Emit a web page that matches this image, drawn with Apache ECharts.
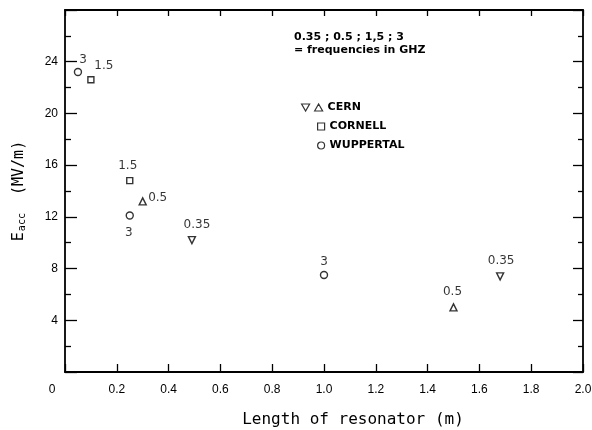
<!DOCTYPE html>
<html>
<head>
<meta charset="utf-8">
<script src="https://cdn.jsdelivr.net/npm/echarts@6/dist/echarts.min.js"></script>
<style>
html,body{margin:0;padding:0;background:#fff;}
#chart{width:592px;height:430px;}
</style>
</head>
<body>
<div id="chart"></div>
<script>
// ---- data ----
var cernUpX = [0.30, 1.50];
var cernUpY = [13.2, 5.0];
var cernUpLabels = ['0.5', '0.5'];

var cernDownX = [0.49, 1.68];
var cernDownY = [10.2, 7.4];
var cernDownLabels = ['0.35', '0.35'];

var cornellX = [0.10, 0.25];
var cornellY = [22.6, 14.8];
var cornellLabels = ['1.5', '1.5'];

var wuppX = [0.05, 0.25, 1.00];
var wuppY = [23.2, 12.1, 7.5];
var wuppLabels = ['3', '3', '3'];

var xTicks = [0, 0.2, 0.4, 0.6, 0.8, 1.0, 1.2, 1.4, 1.6, 1.8, 2.0];
var yTicks = [4, 8, 12, 16, 20, 24];

// ---- label offsets (style, not data) ----
var cernUpOff = [[15, -3], [-1, -15]];
var cernDownOff = [[5, -15], [1, -15]];
var cornellOff = [[13, -14], [-2, -15]];
var wuppOff = [[5, -12], [-1, 17], [0, -13]];

var FONT = 'Liberation Sans';
var BLACK = '#000';

function build(xs, ys, labels, offs) {
  return xs.map(function (x, i) {
    return {
      value: [x, ys[i]],
      label: { show: true, formatter: labels[i], position: 'inside', offset: offs[i] }
    };
  });
}

var markerStyle = { color: '#fff', borderColor: BLACK, borderWidth: 1.4 };
var labelStyle = { color: BLACK, fontFamily: 'DejaVu Sans', fontSize: 12, align: 'center', verticalAlign: 'middle' };

var chart = echarts.init(document.getElementById('chart'), null, { renderer: 'canvas' });

var legendText = { color: BLACK, fontFamily: 'DejaVu Sans', fontSize: 11, fontWeight: 'bold' };

var option = {
  backgroundColor: '#fff',
  animation: false,
  grid: { left: 65, right: 9, top: 10, bottom: 58, containLabel: false, outerBoundsMode: 'none' },
  legend: [
    {
      left: 296, top: 97, itemWidth: 21, itemHeight: 7,
      data: [{ name: 'CERN', icon: 'path://M0,0 L8,0 L4,7 Z M13,7 L17,0 L21,7 Z' }],
      itemStyle: { color: '#fff', borderColor: BLACK, borderWidth: 1.2 },
      textStyle: legendText,
      selectedMode: false
    },
    {
      left: 312, top: 116, orient: 'vertical', itemGap: 8, itemWidth: 7, itemHeight: 7,
      data: [{ name: 'CORNELL', icon: 'rect' }, { name: 'WUPPERTAL', icon: 'circle' }],
      itemStyle: { color: '#fff', borderColor: BLACK, borderWidth: 1.2 },
      textStyle: legendText,
      selectedMode: false
    }
  ],
  graphic: [
    { type: 'text', left: 294, top: 32, style: { text: '0.35 ; 0.5 ; 1,5 ; 3', fill: BLACK, font: 'bold 11px "DejaVu Sans"' } },
    { type: 'text', left: 294, top: 45, style: { text: '= frequencies in GHZ', fill: BLACK, font: 'bold 11px "DejaVu Sans"' } }
  ],
  xAxis: [
    {
      type: 'value', min: 0, max: 2, interval: 0.2, position: 'bottom',
      axisLine: { show: true, onZero: false, lineStyle: { color: BLACK, width: 1.8 } },
      axisTick: { show: true, inside: true, length: 8, lineStyle: { color: BLACK, width: 1.3 } },
      splitLine: { show: false },
      axisLabel: {
        color: BLACK, fontFamily: FONT, fontSize: 12, margin: 12,
        formatter: function (v) {
          if (Math.abs(v) < 1e-9) return '{o|0}';
          return v.toFixed(1);
        },
        rich: { o: { color: BLACK, fontFamily: FONT, fontSize: 12, padding: [0, 26, 0, 0] } }
      },
      name: 'Length of resonator (m)', nameLocation: 'middle', nameGap: 40,
      nameTextStyle: { color: BLACK, fontFamily: 'DejaVu Sans Mono', fontSize: 16, padding: [0, 0, 0, 58] }
    },
    {
      type: 'value', min: 0, max: 2, interval: 0.2, position: 'top',
      axisLine: { show: true, onZero: false, lineStyle: { color: BLACK, width: 1.8 } },
      axisTick: { show: true, inside: true, length: 6, lineStyle: { color: BLACK, width: 1.3 } },
      axisLabel: { show: false }, splitLine: { show: false }
    }
  ],
  yAxis: [
    {
      type: 'value', min: 0, max: 28, interval: 4, position: 'left',
      axisLine: { show: true, onZero: false, lineStyle: { color: BLACK, width: 1.8 } },
      axisTick: { show: true, inside: true, length: 12, lineStyle: { color: BLACK, width: 1.3 } },
      minorTick: { show: true, splitNumber: 2, length: 6, lineStyle: { color: BLACK, width: 1.3 } },
      splitLine: { show: false },
      axisLabel: {
        color: BLACK, fontFamily: FONT, fontSize: 12, margin: 7,
        formatter: function (v) { return yTicks.indexOf(v) >= 0 ? String(v) : ''; }
      },
      name: '{e|E}{s|acc}  (MV/m)', nameLocation: 'middle', nameGap: 38,
      nameTextStyle: {
        color: BLACK, fontFamily: 'DejaVu Sans Mono', fontSize: 15,
        rich: {
          e: { color: BLACK, fontFamily: 'DejaVu Sans Mono', fontSize: 15 },
          s: { color: BLACK, fontFamily: 'DejaVu Sans Mono', fontSize: 10, verticalAlign: 'bottom', padding: [6, 0, 0, 1] }
        }
      }
    },
    {
      type: 'value', min: 0, max: 28, interval: 4, position: 'right',
      axisLine: { show: true, onZero: false, lineStyle: { color: BLACK, width: 1.8 } },
      axisTick: { show: true, inside: true, length: 10, lineStyle: { color: BLACK, width: 1.3 } },
      minorTick: { show: true, splitNumber: 2, length: 5, lineStyle: { color: BLACK, width: 1.3 } },
      axisLabel: { show: false }, splitLine: { show: false }
    }
  ],
  series: [
    {
      name: 'CERN', type: 'scatter', symbol: 'triangle', symbolSize: 7,
      itemStyle: markerStyle, label: labelStyle,
      data: build(cernUpX, cernUpY, cernUpLabels, cernUpOff)
    },
    {
      name: 'CERN', type: 'scatter', symbol: 'triangle', symbolRotate: 180, symbolSize: 7,
      itemStyle: markerStyle, label: labelStyle,
      data: build(cernDownX, cernDownY, cernDownLabels, cernDownOff)
    },
    {
      name: 'CORNELL', type: 'scatter', symbol: 'rect', symbolSize: 6,
      itemStyle: markerStyle, label: labelStyle,
      data: build(cornellX, cornellY, cornellLabels, cornellOff)
    },
    {
      name: 'WUPPERTAL', type: 'scatter', symbol: 'circle', symbolSize: 7,
      itemStyle: markerStyle, label: labelStyle,
      data: build(wuppX, wuppY, wuppLabels, wuppOff)
    }
  ]
};
chart.setOption(option);
</script>
</body>
</html>
